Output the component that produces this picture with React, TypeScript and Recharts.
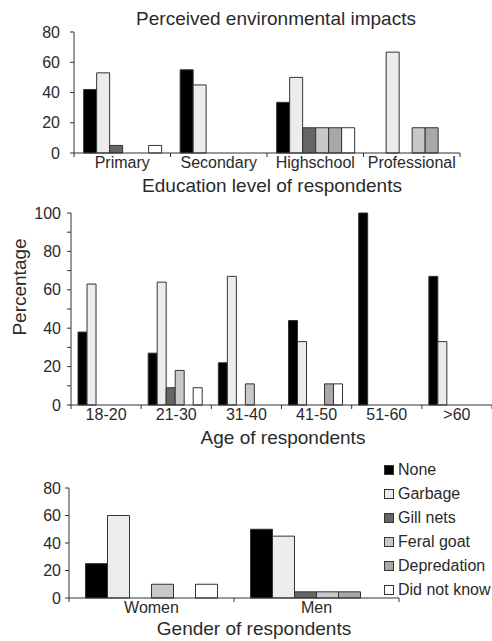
import React from "react";
import { Bar, BarChart, XAxis, YAxis } from "recharts";

const seriesNames = ["None", "Garbage", "Gill nets", "Feral goat", "Depredation", "Did not know"];
const seriesFills = ["#000000", "#ececec", "#666666", "#c8c8c8", "#a8a8a8", "#ffffff"];

const educationLevels = ["Primary", "Secondary", "Highschool", "Professional"];
// one row per series, one column per education level
const educationValues = [
  [42, 55, 33.5, 0],
  [53, 45, 50, 66.7],
  [5, 0, 16.7, 0],
  [0, 0, 16.7, 16.7],
  [0, 0, 16.7, 16.7],
  [5, 0, 16.7, 0]
];
const educationTicks = [0, 20, 40, 60, 80];

const ageGroups = ["18-20", "21-30", "31-40", "41-50", "51-60", ">60"];
const ageValues = [
  [38, 27, 22, 44, 100, 67],
  [63, 64, 67, 33, 0, 33],
  [0, 9, 0, 0, 0, 0],
  [0, 18, 11, 0, 0, 0],
  [0, 0, 0, 11, 0, 0],
  [0, 9, 0, 11, 0, 0]
];
const ageTicks = [0, 10, 20, 30, 40, 50, 60, 70, 80, 90, 100];

const genders = ["Women", "Men"];
const genderValues = [
  [25, 50],
  [60, 45],
  [0, 4.5],
  [10, 4.5],
  [0, 4.5],
  [10, 0]
];
const genderTicks = [0, 20, 40, 60, 80];

const FONT = "'Liberation Sans', Arial, Helvetica, sans-serif";
const INK = "#2a2a2a";

const toRows = (cats: string[], values: number[][]) =>
  cats.map((category, j) => {
    const row: Record<string, string | number> = { category };
    seriesNames.forEach((name, i) => {
      row[name] = values[i][j];
    });
    return row;
  });

// category label in the middle of the band, tick marks on the band edges
const BandTick = (props: any) => {
  const { x, y, payload, half, count, fontSize, dy } = props;
  const h = payload && payload.offset ? payload.offset : half;
  const last = payload && payload.index === count - 1;
  return (
    <g>
      <line x1={x - h} y1={y} x2={x - h} y2={y + 4} stroke="#333" />
      {last && <line x1={x + h} y1={y} x2={x + h} y2={y + 4} stroke="#333" />}
      <text x={x} y={y + dy} textAnchor="middle" fill={INK} fontSize={fontSize} fontFamily={FONT}>
        {payload.value}
      </text>
    </g>
  );
};

const Caption: React.FC<{ x: number; y: number; size?: number; rotate?: boolean; children: React.ReactNode }> = ({
  x,
  y,
  size = 19,
  rotate,
  children
}) => (
  <div
    style={{
      position: "absolute",
      left: x,
      top: y,
      transform: `translate(-50%, -50%)${rotate ? " rotate(-90deg)" : ""}`,
      whiteSpace: "nowrap",
      fontFamily: FONT,
      fontSize: size,
      color: INK,
      lineHeight: 1
    }}
  >
    {children}
  </div>
);

const Panel: React.FC<{
  top: number;
  height: number;
  cats: string[];
  values: number[][];
  ticks: number[];
  domainMax: number;
  margin: { top: number; right: number; left: number; bottom: number };
  yWidth: number;
  xHeight: number;
  yTickMargin: number;
  showTick?: (v: number) => boolean;
}> = ({ top, height, cats, values, ticks, domainMax, margin, yWidth, xHeight, yTickMargin, showTick }) => {
  const plotWidth = 492 - margin.left - margin.right - yWidth;
  const half = plotWidth / cats.length / 2;
  return (
    <div style={{ position: "absolute", left: 0, top }}>
      <BarChart
        width={492}
        height={height}
        data={toRows(cats, values)}
        margin={margin}
        barCategoryGap="10%"
        barGap={0}
      >
        <XAxis
          dataKey="category"
          height={xHeight}
          axisLine={{ stroke: "#333" }}
          tickLine={false}
          tickSize={0}
          tickMargin={0}
          interval={0}
          tick={<BandTick half={half} count={cats.length} fontSize={16} dy={15} />}
        />
        <YAxis
          width={yWidth}
          domain={[0, domainMax]}
          ticks={ticks}
          interval={0}
          axisLine={{ stroke: "#333" }}
          tickLine={{ stroke: "#333" }}
          tickSize={4}
          tickMargin={yTickMargin}
          tickFormatter={(v: number) => (showTick && !showTick(v) ? "" : String(v))}
          tick={{ fill: INK, fontSize: 16, fontFamily: FONT }}
        />
        {seriesNames.map((name, i) => (
          <Bar
            key={name}
            dataKey={name}
            fill={seriesFills[i]}
            stroke="#333"
            strokeWidth={1}
            isAnimationActive={false}
          />
        ))}
      </BarChart>
    </div>
  );
};

export default function App() {
  return (
    <div style={{ position: "absolute", left: 0, top: 0, width: 492, height: 641, background: "#fff" }}>
      <Caption x={276} y={18}>Perceived environmental impacts</Caption>
      <Panel
        top={0}
        height={176}
        cats={educationLevels}
        values={educationValues}
        ticks={educationTicks}
        domainMax={80}
        margin={{ top: 32, right: 32, left: 0, bottom: 0 }}
        yWidth={74}
        xHeight={23}
        yTickMargin={10}
      />
      <Caption x={272} y={185}>Education level of respondents</Caption>

      <Caption x={19} y={287} rotate>
        Percentage
      </Caption>
      <Panel
        top={200}
        height={228}
        cats={ageGroups}
        values={ageValues}
        ticks={ageTicks}
        domainMax={100}
        margin={{ top: 13, right: 0, left: 0, bottom: 0 }}
        yWidth={71}
        xHeight={23}
        yTickMargin={6}
        showTick={(v) => v % 20 === 0}
      />
      <Caption x={283} y={437}>Age of respondents</Caption>

      <Panel
        top={470}
        height={152}
        cats={genders}
        values={genderValues}
        ticks={genderTicks}
        domainMax={80}
        margin={{ top: 18, right: 93, left: 0, bottom: 0 }}
        yWidth={69}
        xHeight={24}
        yTickMargin={4}
      />
      <Caption x={254} y={628}>Gender of respondents</Caption>

      <div style={{ position: "absolute", left: 384, top: 458, fontFamily: FONT, fontSize: 16, color: INK }}>
        {seriesNames.map((name, i) => (
          <div key={name} style={{ display: "flex", alignItems: "center", height: 24 }}>
            <span
              style={{
                display: "inline-block",
                width: 8,
                height: 8,
                background: seriesFills[i],
                border: "1px solid #333",
                marginRight: 4
              }}
            />
            {name}
          </div>
        ))}
      </div>
    </div>
  );
}
